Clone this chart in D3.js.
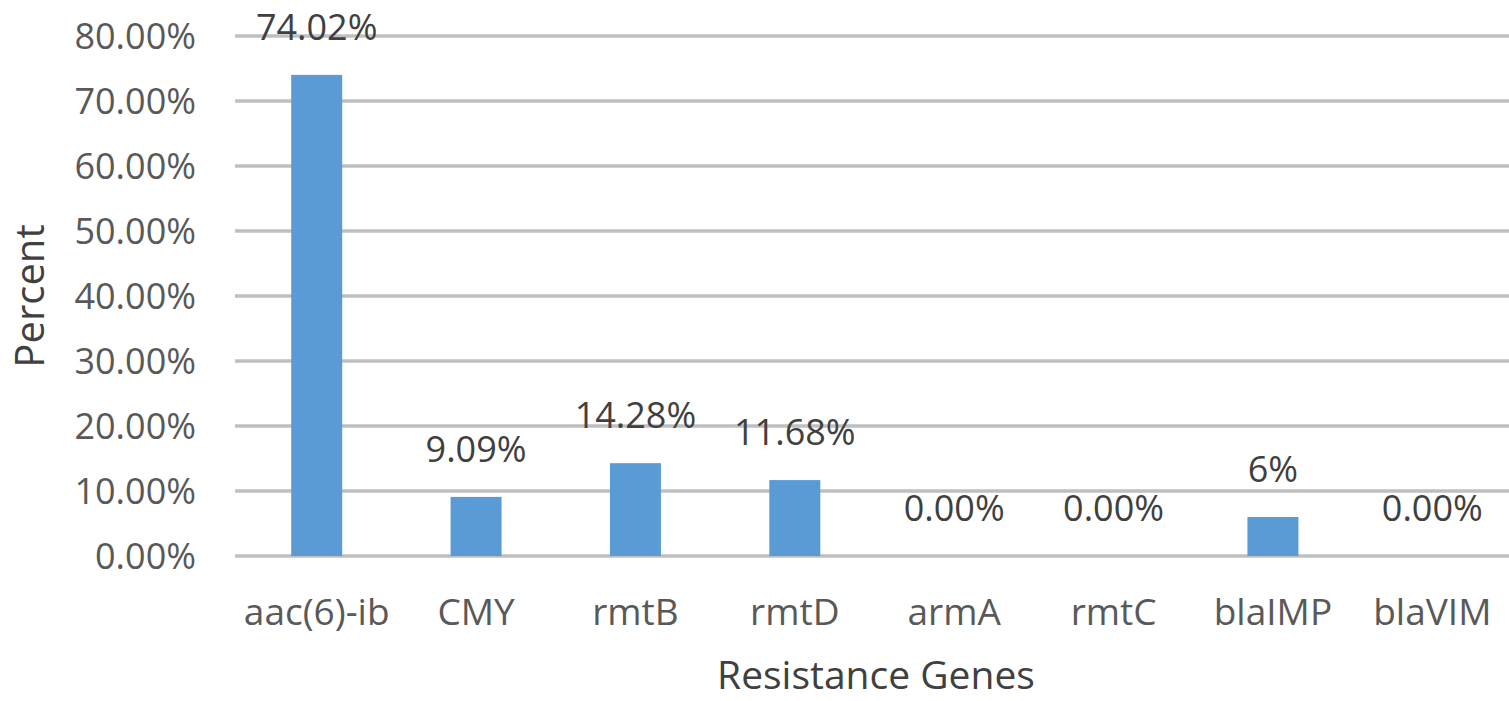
<!DOCTYPE html>
<html>
<head>
<meta charset="utf-8">
<script src="https://cdn.jsdelivr.net/npm/d3@7"></script>
<style>
  html, body { margin: 0; padding: 0; background: #fff; }
  svg { display: block; }
  text { font-family: "Open Sans", "Noto Sans", sans-serif; }
</style>
</head>
<body>
<svg id="chart" width="1509" height="701"></svg>
<script>
const categories = ["aac(6)-ib", "CMY", "rmtB", "rmtD", "armA", "rmtC", "blaIMP", "blaVIM"];
const values = [74.02, 9.09, 14.28, 11.68, 0, 0, 6, 0];
const valueLabels = ["74.02%", "9.09%", "14.28%", "11.68%", "0.00%", "0.00%", "6%", "0.00%"];
const yTicks = [0, 10, 20, 30, 40, 50, 60, 70, 80];
const xTitle = "Resistance Genes";
const yTitle = "Percent";

const svg = d3.select("#chart");
const W = 1509, H = 701;

const x = d3.scaleBand().domain(categories).range([237, 1512]).paddingInner(0.68).paddingOuter(0.34);
const y = d3.scaleLinear().domain([0, 80]).range([556, 36]);

// gridlines
svg.append("g").selectAll("line").data(yTicks).join("line")
  .attr("x1", 235).attr("x2", W)
  .attr("y1", d => y(d)).attr("y2", d => y(d))
  .attr("stroke", "#bfbfbf").attr("stroke-width", 3.5);

// y axis labels
const yAxis = d3.axisLeft(y).tickValues(yTicks).tickSize(0).tickPadding(0)
  .tickFormat(d => d.toFixed(2) + "%");
const gy = svg.append("g").attr("transform", "translate(196,0)").call(yAxis);
gy.select(".domain").remove();
gy.selectAll("text").attr("font-size", 36).attr("fill", "#595959")
  .attr("font-family", "'Open Sans', sans-serif").attr("dy", "0.36em");

// bars
svg.append("g").selectAll("rect").data(values).join("rect")
  .attr("x", (d, i) => x(categories[i]))
  .attr("width", x.bandwidth())
  .attr("y", d => y(d))
  .attr("height", d => y(0) - y(d))
  .attr("fill", "#5b9bd5");

// data labels
svg.append("g").selectAll("text").data(values).join("text")
  .attr("x", (d, i) => x(categories[i]) + x.bandwidth() / 2)
  .attr("y", d => y(d) - 35)
  .attr("text-anchor", "middle")
  .attr("font-size", 36).attr("fill", "#404040")
  .text((d, i) => valueLabels[i]);

// x axis labels
const xAxis = d3.axisBottom(x).tickSize(0).tickPadding(0);
const gx = svg.append("g").attr("transform", "translate(0,625)").call(xAxis);
gx.select(".domain").remove();
gx.selectAll("text").attr("font-size", 37).attr("fill", "#595959")
  .attr("font-family", "'Open Sans', sans-serif").attr("dy", "0");

// axis titles
svg.append("text").attr("x", 876).attr("y", 689).attr("text-anchor", "middle")
  .attr("font-size", 39).attr("fill", "#404040").text(xTitle);
svg.append("text").attr("transform", "translate(44,296) rotate(-90)")
  .attr("text-anchor", "middle").attr("font-size", 40).attr("fill", "#404040").text(yTitle);
</script>
</body>
</html>
